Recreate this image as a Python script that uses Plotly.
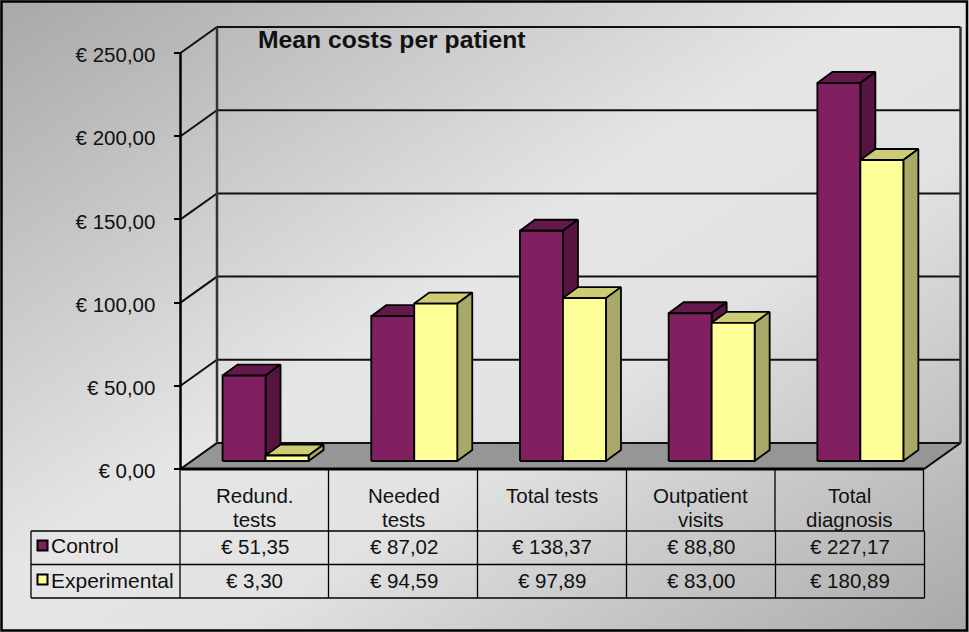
import base64
import plotly.graph_objects as go

categories = ['Redund.\ntests', 'Needed\ntests', 'Total tests', 'Outpatient\nvisits', 'Total\ndiagnosis']
control = [51.35, 87.02, 138.37, 88.80, 227.17]
experimental = [3.30, 94.59, 97.89, 83.00, 180.89]
y_ticks = [0, 50, 100, 150, 200, 250]

W = 969
H = 632
FONT = 'Liberation Sans'
SIZE = 20.5
TEXT = '#111111'

# pixel scale of the picture: slots along x, euros along y
SLOT_PX = 148.7
EURO_PX = 1.664
LEFT_PX = 180.5
BASE_PX = 469


def dx(p):
    return p / SLOT_PX


def dy(p):
    return p / EURO_PX


def xval(p):
    return (p - LEFT_PX) / SLOT_PX


def yval(p):
    return (BASE_PX - p) / EURO_PX


def fmt(v):
    return '€ {:.2f}'.format(v).replace('.', ',')


def poly(xs, ys, fill, width=1.8):
    return go.Scatter(x=xs + xs[:1], y=ys + ys[:1], mode='lines', fill='toself', fillcolor=fill,
                      line=dict(color='black', width=width), hoverinfo='skip', cliponaxis=False)


def seg(xs, ys, color='black', width=1.6):
    return go.Scatter(x=xs, y=ys, mode='lines', line=dict(color=color, width=width),
                      hoverinfo='skip', cliponaxis=False)


WALL_X = dx(36.5)
WALL_Y = dy(26)
traces = []

# floor
traces.append(poly([0, WALL_X, 5 + WALL_X, 5], [0, WALL_Y, WALL_Y, 0], '#969696', 1.5))

# gridlines on back and side wall
for t in y_ticks:
    traces.append(seg([0, WALL_X, 5 + WALL_X], [t, t + WALL_Y, t + WALL_Y], '#111111', 2))
traces.append(seg([WALL_X, WALL_X], [WALL_Y, 250 + WALL_Y], '#333333', 2.5))
traces.append(seg([5 + WALL_X, 5 + WALL_X], [WALL_Y, 250 + WALL_Y], '#333333', 2.5))
traces.append(seg([5 + WALL_X, 5], [WALL_Y, 0], '#111111', 2))
traces.append(seg([0, 0], [0, 250], 'black', 2.5))

# bars, back to front, left to right
BAR_W = dx(43)
BAR_DX = dx(15)
BAR_DY = dy(11)
BAR_BASE = dy(8)
BAR_CENTER = 0.572
series = [(control, -1, '#802060', '#64184c', '#561540'),
          (experimental, 0, '#ffff99', '#cccc77', '#a8a868')]
for i in range(len(categories)):
    for vals, off, front, top, side in series:
        x0 = i + BAR_CENTER + off * BAR_W
        x1 = x0 + BAR_W
        y0 = BAR_BASE
        y1 = BAR_BASE + vals[i]
        traces.append(poly([x0, x0 + BAR_DX, x1 + BAR_DX, x1], [y1, y1 + BAR_DY, y1 + BAR_DY, y1], top))
        traces.append(poly([x1, x1 + BAR_DX, x1 + BAR_DX, x1], [y0, y0 + BAR_DY, y1 + BAR_DY, y1], side))
        traces.append(poly([x0, x1, x1, x0], [y0, y0, y1, y1], front))

# front edge of the floor
traces.append(seg([0, 5], [0, 0], 'black', 3))

# legend keys of the table
traces.append(go.Scatter(x=[xval(42.5)], y=[yval(545.5)], mode='markers', hoverinfo='skip', cliponaxis=False,
                         marker=dict(symbol='square', size=10, color='#802060', line=dict(color='black', width=2))))
traces.append(go.Scatter(x=[xval(42.5)], y=[yval(579.5)], mode='markers', hoverinfo='skip', cliponaxis=False,
                         marker=dict(symbol='square', size=10, color='#ffff99', line=dict(color='black', width=2))))

fig = go.Figure(data=traces)

# text of the table
annotations = []


def label(x, y, text, anchor='center', size=SIZE, bold=False):
    annotations.append(dict(x=x, y=y, xref='x', yref='y', text='<b>' + text + '</b>' if bold else text,
                            showarrow=False, xanchor=anchor, yanchor='middle',
                            font=dict(family=FONT, size=size, color=TEXT)))


for i, c in enumerate(categories):
    for n, part in enumerate(c.split('\n')):
        label(i + 0.5, yval(495 + n * 24), part)
    label(i + 0.5, yval(546), fmt(control[i]))
    label(i + 0.5, yval(580), fmt(experimental[i]))
label(xval(49), yval(545), 'Control', 'left', 21)
label(xval(49), yval(580), 'Experimental', 'left', 21)
label(xval(256), yval(39), 'Mean costs per patient', 'left', 24.7, True)

# table lines and picture frame in pixels
shapes = []


def hline(y, x0, x1):
    shapes.append(dict(type='line', xref='paper', yref='paper', x0=x0 / W, x1=x1 / W,
                       y0=1 - y / H, y1=1 - y / H, line=dict(color='black', width=1.3)))


def vline(x, y0, y1):
    shapes.append(dict(type='line', xref='paper', yref='paper', x0=x / W, x1=x / W,
                       y0=1 - y0 / H, y1=1 - y1 / H, line=dict(color='black', width=1.3)))


for x in [180, 328.5, 477.5, 626.5, 775, 923.5]:
    vline(x, 469, 531)
for x in [31, 180, 328.5, 477.5, 626.5, 775.5, 924.5]:
    vline(x, 531, 598)
for y in [531, 564.5, 598]:
    hline(y, 31, 924.5)
shapes.append(dict(type='rect', xref='paper', yref='paper', x0=1.5 / W, x1=967 / W, y0=1 - 630.5 / H, y1=1 - 1.5 / H,
                   line=dict(color='black', width=2.5)))

# diagonal grey gradient of the chart area
svg = ('<svg xmlns="http://www.w3.org/2000/svg" width="969" height="632"><defs>'
       '<linearGradient id="g" x1="0" y1="0" x2="1" y2="1">'
       '<stop offset="0" stop-color="#a8a8a8"/><stop offset="0.46" stop-color="#e6e6e6"/>'
       '<stop offset="0.62" stop-color="#e2e2e2"/><stop offset="1" stop-color="#a8a8a8"/>'
       '</linearGradient></defs><rect width="969" height="632" fill="url(#g)"/></svg>')
bg = 'data:image/svg+xml;base64,' + base64.b64encode(svg.encode()).decode()

fig.update_layout(
    width=W, height=H, autosize=False, showlegend=False,
    margin=dict(l=0, r=0, t=0, b=0),
    paper_bgcolor='white', plot_bgcolor='rgba(0,0,0,0)',
    annotations=annotations, shapes=shapes,
    images=[dict(source=bg, xref='paper', yref='paper', x=0, y=1, sizex=1, sizey=1,
                 sizing='stretch', xanchor='left', yanchor='top', layer='below')],
    xaxis=dict(range=[xval(0), xval(W)], visible=False, fixedrange=True),
    yaxis=dict(range=[yval(H), yval(0)], anchor='free', position=LEFT_PX / W,
               tickmode='array', tickvals=y_ticks, ticktext=[fmt(t) for t in y_ticks],
               ticks='outside', ticklen=7, tickwidth=1.5, tickcolor='black',
               ticklabelstandoff=14, ticklabelshift=2,
               tickfont=dict(family=FONT, size=SIZE, color=TEXT),
               showgrid=False, zeroline=False, showline=False, fixedrange=True),
)

fig.write_html("out.html", config=dict(displayModeBar=False), post_script="document.body.style.margin='0';")
